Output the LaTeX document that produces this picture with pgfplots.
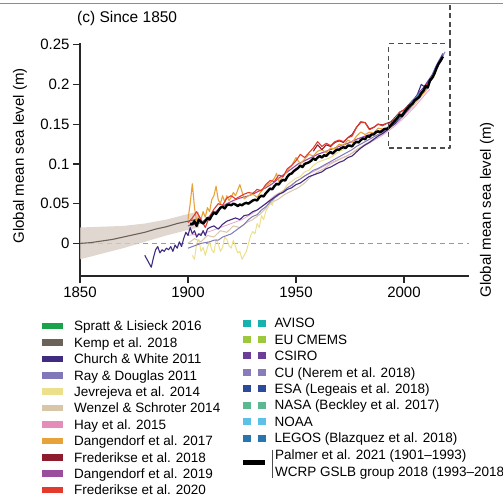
\documentclass[border=0pt]{standalone}
\usepackage{pgfplots}
\pgfplotsset{compat=1.18}
\usepackage{fontspec}
\setmainfont{Liberation Sans}
\definecolor{spratt}{HTML}{1AA34A}
\definecolor{kemp}{HTML}{6B625A}
\definecolor{kempband}{HTML}{D9CDC6}
\definecolor{church}{HTML}{3F2B80}
\definecolor{ray}{HTML}{8078B8}
\definecolor{jev}{HTML}{EDE08C}
\definecolor{wenzel}{HTML}{D8C6A8}
\definecolor{hay}{HTML}{E48DBA}
\definecolor{dangA}{HTML}{E8A23A}
\definecolor{fredA}{HTML}{8E1B2E}
\definecolor{dangB}{HTML}{9B4E9E}
\definecolor{fredB}{HTML}{E43A2D}
\definecolor{aviso}{HTML}{16B2AE}
\definecolor{cmems}{HTML}{9DC83C}
\definecolor{csiro}{HTML}{6C3E98}
\definecolor{cu}{HTML}{8A7CB9}
\definecolor{esa}{HTML}{2B4A9A}
\definecolor{nasa}{HTML}{5BB88F}
\definecolor{noaa}{HTML}{5CC1E6}
\definecolor{legos}{HTML}{2876B0}
\newcommand{\legfont}{\fontsize{13.5}{16}\selectfont}
\newcommand{\labfont}{\fontsize{15}{18}\selectfont}
\begin{document}
\begin{tikzpicture}
\useasboundingbox (-80pt,-222pt) rectangle (423pt,276pt);
\draw[black!45, line width=1pt] (-80pt,272pt) -- (423pt,272pt);
\begin{axis}[
  at={(0pt,0pt)}, anchor=south west,
  scale only axis, width=388.8pt, height=233.3pt,
  xmin=1850, xmax=2030, ymin=-0.041, ymax=0.2525,
  axis x line*=bottom, axis y line*=left,
  axis line style={line width=1.2pt, black!85, -},
  xtick={1850,1900,1950,2000}, xticklabels={1850,1900,1950,2000},
  ytick={0,0.05,0.1,0.15,0.2,0.25}, yticklabels={0,0.05,0.1,0.15,0.2,0.25},
  tick align=outside, major tick length=7pt,
  tick style={line width=1.2pt, black!85},
  ticklabel style={font=\labfont},
  /pgf/number format/assume math mode=true,
  clip=false,
  line join=round,
]
% zero line
\addplot[black!40, line width=0.8pt, dash pattern=on 5pt off 4pt] coordinates {(1850,0) (2030,0)};
% Kemp band and line
\addplot[fill=kempband, draw=none, fill opacity=0.8] coordinates {
(1850,0.020) (1860,0.021) (1870,0.022) (1880,0.025) (1890,0.030) (1900,0.037) (1905,0.040)
(1905,0.020) (1900,0.017) (1890,0.010) (1880,0.002) (1870,-0.006) (1860,-0.013) (1850,-0.020)};
\addplot[kemp, line width=1.1pt] coordinates {
(1850,0.000) (1855,0.001) (1860,0.003) (1865,0.005) (1870,0.008) (1875,0.011) (1880,0.014)
(1885,0.018) (1890,0.021) (1895,0.025) (1900,0.028) (1905,0.031)};
% Hay 2015
\addplot[hay!80, line width=0.8pt] coordinates {
(1900,0.010) (1905,0.012) (1910,0.015) (1915,0.020) (1920,0.025) (1925,0.030) (1930,0.038)
(1935,0.048) (1940,0.060) (1945,0.068) (1950,0.078) (1955,0.086) (1960,0.093) (1965,0.100)
(1970,0.106) (1975,0.112) (1980,0.120) (1985,0.128) (1990,0.136) (1995,0.146) (2000,0.158)
(2005,0.172) (2010,0.188) (2012,0.194)};
% Wenzel & Schroter 2014
\addplot[wenzel, line width=1pt] coordinates {
(1900,0.000) (1903,0.006) (1906,0.002) (1909,0.010) (1912,0.008) (1915,0.016) (1918,0.014)
(1921,0.022) (1924,0.020) (1927,0.026) (1930,0.030) (1933,0.036) (1936,0.044) (1939,0.052)
(1942,0.056) (1945,0.062) (1948,0.066) (1951,0.070) (1954,0.076) (1957,0.084) (1960,0.090)
(1963,0.094) (1966,0.100) (1969,0.104) (1972,0.108) (1975,0.112) (1978,0.118) (1981,0.123)
(1984,0.128) (1987,0.133) (1990,0.139) (1993,0.144) (1996,0.150) (1999,0.158) (2002,0.166)
(2005,0.175) (2008,0.185) (2011,0.195)};
% Jevrejeva 2014
\addplot[jev, line width=1pt] coordinates {
(1902,-0.015) (1903,-0.020) (1904,0.000) (1905,0.005) (1906,-0.010) (1907,-0.005) (1908,-0.015)
(1909,-0.005) (1910,0.002) (1911,-0.008) (1912,-0.012) (1913,0.005) (1914,0.000) (1915,-0.010)
(1916,-0.005) (1917,0.008) (1918,0.005) (1919,-0.003) (1920,-0.006) (1921,0.004) (1922,-0.004)
(1923,-0.012) (1924,-0.010) (1925,-0.020) (1926,-0.015) (1927,-0.010) (1928,0.000) (1929,0.010)
(1930,0.015) (1931,0.012) (1932,0.025) (1933,0.020) (1934,0.035) (1935,0.030) (1936,0.040)
(1937,0.045) (1938,0.052) (1939,0.048) (1940,0.057) (1942,0.062) (1944,0.066) (1946,0.074)
(1948,0.078) (1950,0.082) (1952,0.084) (1954,0.090) (1956,0.092) (1958,0.098) (1960,0.102)
(1962,0.104) (1964,0.106) (1966,0.108) (1968,0.112) (1970,0.116) (1972,0.118) (1974,0.122)
(1976,0.122) (1978,0.126) (1980,0.130) (1982,0.134) (1984,0.136) (1986,0.138) (1988,0.141)
(1990,0.143) (1992,0.145) (1994,0.149) (1996,0.153) (1998,0.158) (2000,0.162) (2002,0.166)};
% Ray & Douglas 2011
\addplot[ray, line width=1pt] coordinates {
(1900,-0.006) (1902,-0.004) (1904,-0.002) (1906,0.000) (1908,0.001) (1910,0.002) (1912,0.004)
(1914,0.004) (1916,0.008) (1918,0.010) (1920,0.012) (1922,0.016) (1924,0.020) (1926,0.024)
(1928,0.030) (1930,0.034) (1932,0.036) (1934,0.042) (1936,0.046) (1938,0.052) (1940,0.057)
(1942,0.061) (1944,0.065) (1946,0.070) (1948,0.073) (1950,0.078) (1952,0.081) (1954,0.085)
(1956,0.088) (1958,0.092) (1960,0.094) (1962,0.097) (1964,0.100) (1966,0.103) (1968,0.106)
(1970,0.109) (1972,0.112) (1974,0.115) (1976,0.118) (1978,0.122) (1980,0.125) (1982,0.128)
(1984,0.131) (1986,0.134) (1988,0.137) (1990,0.140) (1992,0.143) (1994,0.147) (1996,0.151)
(1998,0.156) (2000,0.162) (2002,0.168) (2004,0.175) (2006,0.182) (2008,0.188) (2009,0.191)};
% Church & White 2011
\addplot[church, line width=1.1pt] coordinates {
(1880,-0.015) (1881,-0.020) (1882,-0.025) (1883,-0.030) (1884,-0.018) (1885,-0.008) (1886,-0.004)
(1887,-0.012) (1888,-0.008) (1889,-0.010) (1890,-0.006) (1891,-0.008) (1892,-0.004) (1893,-0.010)
(1894,-0.002) (1895,-0.006) (1896,0.002) (1897,-0.004) (1898,0.006) (1899,0.014) (1900,0.010)
(1901,0.020) (1902,0.012) (1903,0.016) (1904,0.008) (1905,0.012) (1906,0.010) (1907,0.016)
(1908,0.010) (1909,0.018) (1910,0.020) (1912,0.022) (1914,0.018) (1916,0.024) (1918,0.028)
(1920,0.030) (1922,0.032) (1924,0.030) (1926,0.035) (1928,0.036) (1930,0.040) (1932,0.042)
(1934,0.046) (1936,0.050) (1938,0.054) (1940,0.058) (1942,0.062) (1944,0.064) (1946,0.068)
(1948,0.070) (1950,0.074) (1952,0.076) (1954,0.080) (1956,0.084) (1958,0.086) (1960,0.088)
(1962,0.090) (1964,0.094) (1966,0.096) (1968,0.099) (1970,0.102) (1972,0.104) (1974,0.108)
(1976,0.110) (1978,0.115) (1980,0.120) (1982,0.124) (1984,0.127) (1986,0.131) (1988,0.135)
(1990,0.138) (1992,0.142) (1994,0.147) (1996,0.151) (1998,0.159) (2000,0.164) (2002,0.170)
(2004,0.178) (2006,0.186) (2008,0.200) (2010,0.196) (2012,0.205) (2013,0.210)};
% Dangendorf 2019
\addplot[dangB, line width=1.1pt] coordinates {
(1900,0.022) (1903,0.024) (1906,0.026) (1909,0.032) (1912,0.038) (1915,0.045) (1918,0.050)
(1921,0.054) (1924,0.057) (1927,0.059) (1930,0.062) (1933,0.066) (1936,0.070) (1939,0.075)
(1942,0.082) (1945,0.088) (1948,0.094) (1951,0.100) (1954,0.104) (1957,0.108) (1960,0.112)
(1963,0.115) (1966,0.118) (1969,0.121) (1972,0.124) (1975,0.127) (1978,0.131) (1981,0.134)
(1984,0.137) (1987,0.139) (1990,0.142) (1993,0.146) (1996,0.153) (1999,0.160) (2002,0.168)
(2005,0.178) (2008,0.188) (2011,0.200) (2013,0.208) (2015,0.218)};
% Dangendorf 2017
\addplot[dangA, line width=1.1pt] coordinates {
(1900,0.030) (1901,0.050) (1902,0.075) (1903,0.045) (1904,0.028) (1905,0.035) (1906,0.030)
(1907,0.040) (1908,0.033) (1909,0.045) (1910,0.040) (1911,0.055) (1912,0.060) (1913,0.072)
(1914,0.055) (1915,0.050) (1916,0.060) (1917,0.052) (1918,0.060) (1919,0.054) (1920,0.058)
(1921,0.064) (1922,0.060) (1924,0.074) (1926,0.056) (1928,0.060) (1930,0.062) (1932,0.058)
(1934,0.066) (1936,0.072) (1938,0.076) (1940,0.082) (1941,0.088) (1942,0.078) (1944,0.084)
(1946,0.092) (1948,0.098) (1950,0.108) (1952,0.100) (1954,0.106) (1956,0.112) (1958,0.110)
(1960,0.116) (1962,0.118) (1964,0.114) (1966,0.120) (1968,0.119) (1970,0.125) (1972,0.123)
(1974,0.130) (1976,0.127) (1978,0.135) (1980,0.140) (1982,0.137) (1984,0.140) (1986,0.139)
(1988,0.145) (1990,0.144) (1992,0.144) (1994,0.150) (1996,0.156) (1998,0.160) (2000,0.166)
(2002,0.170) (2004,0.176) (2006,0.180) (2008,0.186) (2010,0.192) (2012,0.204) (2014,0.210)};
% Frederikse 2018
\addplot[fredA, line width=1.1pt] coordinates {
(1958,0.116) (1960,0.124) (1962,0.118) (1964,0.124) (1966,0.122) (1968,0.127) (1970,0.129)
(1972,0.127) (1974,0.133) (1976,0.137) (1978,0.146) (1980,0.153) (1982,0.152) (1984,0.144)
(1986,0.146) (1988,0.150) (1990,0.149) (1992,0.151) (1994,0.153) (1996,0.159) (1998,0.165)
(2000,0.168) (2002,0.174) (2004,0.180) (2006,0.184) (2008,0.190) (2010,0.198) (2012,0.206)
(2014,0.214)};
% Frederikse 2020
\addplot[fredB, line width=1.1pt] coordinates {
(1900,0.026) (1902,0.032) (1904,0.040) (1906,0.030) (1908,0.020) (1910,0.034) (1912,0.043)
(1914,0.050) (1916,0.048) (1918,0.057) (1920,0.060) (1922,0.056) (1924,0.059) (1926,0.062)
(1928,0.064) (1930,0.063) (1932,0.068) (1934,0.066) (1936,0.074) (1938,0.079) (1940,0.078)
(1942,0.086) (1944,0.084) (1946,0.094) (1948,0.098) (1950,0.104) (1952,0.112) (1954,0.108)
(1956,0.114) (1958,0.120) (1960,0.128) (1962,0.122) (1964,0.126) (1966,0.123) (1968,0.128)
(1970,0.130) (1972,0.128) (1974,0.133) (1976,0.135) (1978,0.146) (1980,0.152) (1982,0.152)
(1984,0.143) (1986,0.146) (1988,0.150) (1990,0.148) (1992,0.151) (1994,0.150) (1996,0.158)
(1998,0.165) (2000,0.168) (2002,0.172) (2004,0.178) (2006,0.182) (2008,0.188) (2010,0.198)
(2012,0.206) (2014,0.214) (2016,0.226) (2018,0.236)};
% altimetry
\addplot[aviso, line width=1pt] coordinates {(1993,0.148) (1995,0.153) (1997,0.161) (1999,0.162) (2001,0.170) (2003,0.176) (2005,0.182) (2007,0.187) (2009,0.194) (2011,0.199) (2013,0.210) (2015,0.223) (2017,0.232) (2018,0.237)};
\addplot[cmems, line width=1pt] coordinates {(1993,0.147) (1995,0.154) (1997,0.160) (1999,0.161) (2001,0.169) (2003,0.175) (2005,0.181) (2007,0.186) (2009,0.193) (2011,0.198) (2013,0.209) (2015,0.222) (2017,0.231) (2018,0.236)};
\addplot[csiro, line width=1pt] coordinates {(1993,0.145) (1995,0.150) (1997,0.157) (1999,0.162) (2001,0.166) (2003,0.176) (2005,0.183) (2007,0.190) (2009,0.196) (2011,0.204) (2013,0.212) (2015,0.224) (2017,0.234) (2018,0.239)};
\addplot[cu, line width=1pt] coordinates {(1993,0.146) (1995,0.151) (1997,0.156) (1999,0.160) (2001,0.167) (2003,0.173) (2005,0.180) (2007,0.186) (2009,0.191) (2011,0.198) (2013,0.207) (2015,0.221) (2017,0.231) (2019,0.241)};
\addplot[esa, line width=1pt] coordinates {(1993,0.148) (1995,0.152) (1997,0.159) (1999,0.161) (2001,0.168) (2003,0.175) (2005,0.180) (2007,0.185) (2009,0.193) (2011,0.197) (2013,0.208) (2015,0.221) (2017,0.229) (2018,0.234)};
\addplot[nasa, line width=1pt] coordinates {(1993,0.147) (1995,0.153) (1997,0.158) (1999,0.161) (2001,0.169) (2003,0.174) (2005,0.181) (2007,0.186) (2009,0.192) (2011,0.199) (2013,0.209) (2015,0.222) (2017,0.231) (2018,0.236)};
\addplot[noaa, line width=1pt] coordinates {(1993,0.149) (1995,0.153) (1997,0.160) (1999,0.163) (2001,0.168) (2003,0.176) (2005,0.181) (2007,0.188) (2009,0.194) (2011,0.197) (2013,0.210) (2015,0.222) (2017,0.230) (2018,0.235)};
\addplot[legos, line width=1pt] coordinates {(1993,0.147) (1995,0.152) (1997,0.159) (1999,0.162) (2001,0.170) (2003,0.175) (2005,0.181) (2007,0.187) (2009,0.193) (2011,0.198) (2013,0.209) (2015,0.223) (2017,0.232) (2018,0.237)};
% Palmer / WCRP
\addplot[black, line width=2.4pt] table {
1901 0.025
1902 0.024
1903 0.028
1904 0.022
1905 0.030
1906 0.027
1907 0.025
1908 0.028
1909 0.032
1910 0.030
1911 0.035
1912 0.039
1913 0.037
1914 0.041
1915 0.045
1916 0.046
1917 0.044
1918 0.048
1919 0.049
1920 0.048
1921 0.050
1922 0.049
1923 0.047
1924 0.049
1925 0.048
1926 0.050
1927 0.051
1928 0.050
1929 0.052
1930 0.054
1931 0.055
1932 0.054
1933 0.058
1934 0.060
1935 0.059
1936 0.063
1937 0.066
1938 0.069
1939 0.068
1940 0.072
1941 0.075
1942 0.074
1943 0.078
1944 0.080
1945 0.079
1946 0.084
1947 0.087
1948 0.088
1949 0.091
1950 0.093
1951 0.095
1952 0.098
1953 0.096
1954 0.100
1955 0.101
1956 0.102
1957 0.104
1958 0.107
1959 0.105
1960 0.108
1961 0.110
1962 0.108
1963 0.111
1964 0.110
1965 0.113
1966 0.115
1967 0.113
1968 0.116
1969 0.118
1970 0.118
1971 0.120
1972 0.121
1973 0.120
1974 0.123
1975 0.123
1976 0.122
1977 0.126
1978 0.128
1979 0.127
1980 0.130
1981 0.132
1982 0.131
1983 0.135
1984 0.134
1985 0.137
1986 0.137
1987 0.140
1988 0.141
1989 0.140
1990 0.142
1991 0.144
1992 0.144
1993 0.146
1994 0.149
1995 0.152
1996 0.155
1997 0.158
1998 0.162
1999 0.160
2000 0.164
2001 0.168
2002 0.171
2003 0.174
2004 0.176
2005 0.180
2006 0.182
2007 0.184
2008 0.189
2009 0.192
2010 0.198
2011 0.196
2012 0.205
2013 0.208
2014 0.213
2015 0.220
2016 0.226
2017 0.230
2018 0.235
};
% dashed zoom box
\addplot[black!70, line width=1.1pt, dash pattern=on 5pt off 3.5pt] coordinates {
(1993,0.12) (2021.3,0.12) (2021.3,0.251) (1993,0.251) (1993,0.12)};
\addplot[black!70, line width=1.1pt, dash pattern=on 5pt off 3.5pt] coordinates {
(2021.3,0.251) (2021.3,0.301)};
\end{axis}
% title and axis labels
\node[anchor=west, inner sep=0pt, font=\fontsize{15.5}{18}\selectfont] at (-3pt,258pt) {(c) Since 1850};
\node[rotate=90, inner sep=0pt, font=\labfont] at (-60pt,120pt) {Global mean sea level (m)};
\node[rotate=90, inner sep=0pt, font=\labfont] at (407pt,66pt) {Global mean sea level (m)};
% legend, left column
\foreach \c/\t [count=\i from 0] in {spratt/Spratt \& Lisieck 2016, kemp/Kemp et al. 2018,
  church/Church \& White 2011, ray/Ray \& Douglas 2011, jev/Jevrejeva et al. 2014,
  wenzel/Wenzel \& Schroter 2014, hay/Hay et al. 2015, dangA/Dangendorf et al. 2017,
  fredA/Frederikse et al. 2018, dangB/Dangendorf et al. 2019, fredB/Frederikse et al. 2020}{
  \pgfmathsetmacro{\yy}{-50-16.4*\i}
  \fill[\c] (-38pt,\yy pt-3.3pt) rectangle (-17pt,\yy pt+3.3pt);
  \node[anchor=base west, inner sep=0pt, font=\legfont] at (-6pt,\yy pt-4.8pt) {\t};
}
% legend, right column
\foreach \c/\t [count=\i from 0] in {aviso/AVISO, cmems/EU CMEMS, csiro/CSIRO,
  cu/CU (Nerem et al. 2018), esa/ESA (Legeais et al. 2018), nasa/NASA (Beckley et al. 2017),
  noaa/NOAA, legos/LEGOS (Blazquez et al. 2018)}{
  \pgfmathsetmacro{\yy}{-47-16.43*\i}
  \fill[\c] (163.3pt,\yy pt-3.5pt) rectangle (170.5pt,\yy pt+3.5pt);
  \fill[\c] (178.3pt,\yy pt-3.5pt) rectangle (185.5pt,\yy pt+3.5pt);
  \node[anchor=base west, inner sep=0pt, font=\legfont] at (194.3pt,\yy pt-4.8pt) {\t};
}
\fill[black] (163pt,-189pt) rectangle (185pt,-184pt);
\draw[black!70, line width=0.6pt] (192.7pt,-174pt) -- (192.7pt,-202pt);
\node[anchor=base west, inner sep=0pt, font=\legfont] at (195pt,-183.8pt) {Palmer et al. 2021 (1901–1993)};
\node[anchor=base west, inner sep=0pt, font=\legfont] at (195pt,-200.8pt) {WCRP GSLB group 2018 (1993–2018)};
\end{tikzpicture}
\end{document}
